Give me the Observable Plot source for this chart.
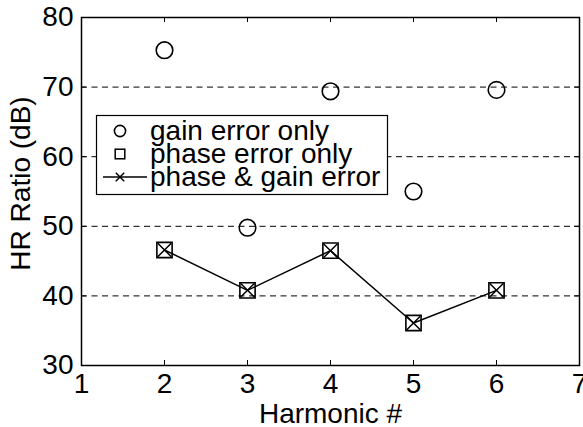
<!DOCTYPE html>
<html>
<head>
<meta charset="utf-8">
<script src="https://cdn.jsdelivr.net/npm/d3@7"></script>
<script src="https://cdn.jsdelivr.net/npm/@observablehq/plot@0.6"></script>
<style>
  html, body { margin: 0; padding: 0; background: #fff; }
  #wrap { position: relative; width: 583px; height: 427px; }
  #legend { position: absolute; left: 0; top: 0; }
</style>
</head>
<body>
<div id="wrap"></div>
<script>
// Data
const harmonics = [2, 3, 4, 5, 6];
const gainErrorOnly = [75.3, 49.8, 69.4, 55.0, 69.6];
const phaseErrorOnly = [46.6, 40.8, 46.5, 36.1, 40.8];
const phaseGainError = [46.6, 40.8, 46.5, 36.1, 40.8];
const xTicks = [1, 2, 3, 4, 5, 6, 7];
const yTicks = [30, 40, 50, 60, 70, 80];
const gridValues = [40, 50, 60, 70];
const seriesNames = ["gain error only", "phase error only", "phase & gain error"];
const xLabel = "Harmonic #";
const yLabel = "HR Ratio (dB)";

const gainData = harmonics.map((h, i) => ({h, v: gainErrorOnly[i]}));
const phaseData = harmonics.map((h, i) => ({h, v: phaseErrorOnly[i]}));
const bothData = harmonics.map((h, i) => ({h, v: phaseGainError[i]}));

const W = 583, H = 427;
const mL = 81, mR = 4, mT = 17, mB = 62;
const fw = W - mL - mR, fh = H - mT - mB;
const font = "'Liberation Sans', Arial, Helvetica, sans-serif";

const chart = Plot.plot({
  width: W, height: H,
  marginLeft: mL, marginRight: mR, marginTop: mT, marginBottom: mB,
  style: {fontFamily: font, fontSize: "28px", color: "black", background: "white"},
  x: {domain: [1, 7]},
  y: {domain: [30, 80]},
  marks: [
    Plot.ruleY(gridValues, {stroke: "black", strokeWidth: 1, strokeDasharray: "6,4.5"}),
    Plot.axisX(xTicks, {tickSize: 0, tickPadding: 8, fontSize: 28, label: null}),
    Plot.axisY(yTicks, {tickSize: 0, tickPadding: 8, fontSize: 28, label: null}),
    // inward ticks
    Plot.tickX(xTicks.slice(1, -1), {x: d => d, stroke: "black", strokeWidth: 1, insetTop: fh - 5}),
    Plot.tickX(xTicks.slice(1, -1), {x: d => d, stroke: "black", strokeWidth: 1, insetBottom: fh - 5}),
    Plot.tickY(yTicks.slice(1, -1), {y: d => d, stroke: "black", strokeWidth: 1, insetRight: fw - 5}),
    Plot.tickY(yTicks.slice(1, -1), {y: d => d, stroke: "black", strokeWidth: 1, insetLeft: fw - 5}),
    Plot.frame({stroke: "black", strokeWidth: 1.5}),
    Plot.line(bothData, {x: "h", y: "v", stroke: "black", strokeWidth: 1.5}),
    Plot.dot(bothData, {x: "h", y: "v", symbol: "times", r: 6.2, stroke: "black", strokeWidth: 1.5}),
    Plot.dot(phaseData, {x: "h", y: "v", symbol: "square", r: 8.6, stroke: "black", strokeWidth: 1.6, fill: "none"}),
    Plot.dot(gainData, {x: "h", y: "v", symbol: "circle", r: 8.3, stroke: "black", strokeWidth: 1.6, fill: "none"}),
    Plot.text([xLabel], {text: d => d, frameAnchor: "bottom", textAnchor: "middle", lineAnchor: "bottom", dy: 57, fontSize: 28, fill: "black"}),
    Plot.text([yLabel], {text: d => d, frameAnchor: "left", textAnchor: "middle", lineAnchor: "middle", rotate: -90, dx: -60, dy: -8, fontSize: 28, fill: "black"})
  ]
});
const wrap = document.getElementById("wrap");
wrap.appendChild(chart);

// Legend overlay (inside plot area)
const ns = "http://www.w3.org/2000/svg";
const lg = document.createElementNS(ns, "svg");
lg.setAttribute("id", "legend");
lg.setAttribute("width", W);
lg.setAttribute("height", H);
lg.style.fontFamily = font;
const bx = 96, by = 115, bw = 291, bh = 79;
const rect = document.createElementNS(ns, "rect");
rect.setAttribute("x", bx + 0.5); rect.setAttribute("y", by + 0.5);
rect.setAttribute("width", bw); rect.setAttribute("height", bh);
rect.setAttribute("fill", "white"); rect.setAttribute("stroke", "black"); rect.setAttribute("stroke-width", "1.2");
lg.appendChild(rect);
const rowY = [131, 154, 177];
const symX = 120;
seriesNames.forEach((name, i) => {
  const cy = rowY[i];
  if (i === 0) {
    const c = document.createElementNS(ns, "circle");
    c.setAttribute("cx", symX); c.setAttribute("cy", cy); c.setAttribute("r", 5.6);
    c.setAttribute("fill", "none"); c.setAttribute("stroke", "black"); c.setAttribute("stroke-width", "1.6");
    lg.appendChild(c);
  } else if (i === 1) {
    const s = document.createElementNS(ns, "rect");
    s.setAttribute("x", symX - 4.8); s.setAttribute("y", cy - 4.8); s.setAttribute("width", 9.6); s.setAttribute("height", 9.6);
    s.setAttribute("fill", "none"); s.setAttribute("stroke", "black"); s.setAttribute("stroke-width", "1.5");
    lg.appendChild(s);
  } else {
    const l = document.createElementNS(ns, "line");
    l.setAttribute("x1", 103); l.setAttribute("x2", 147); l.setAttribute("y1", cy); l.setAttribute("y2", cy);
    l.setAttribute("stroke", "black"); l.setAttribute("stroke-width", "1.5");
    lg.appendChild(l);
    const p = document.createElementNS(ns, "path");
    const d = 4.2;
    p.setAttribute("d", `M${symX - d},${cy - d}L${symX + d},${cy + d}M${symX - d},${cy + d}L${symX + d},${cy - d}`);
    p.setAttribute("stroke", "black"); p.setAttribute("stroke-width", "1.5");
    lg.appendChild(p);
  }
  const t = document.createElementNS(ns, "text");
  t.setAttribute("x", 150); t.setAttribute("y", cy + 9);
  t.setAttribute("font-size", "28"); t.setAttribute("fill", "black");
  t.textContent = name;
  lg.appendChild(t);
});
wrap.appendChild(lg);
</script>
</body>
</html>
